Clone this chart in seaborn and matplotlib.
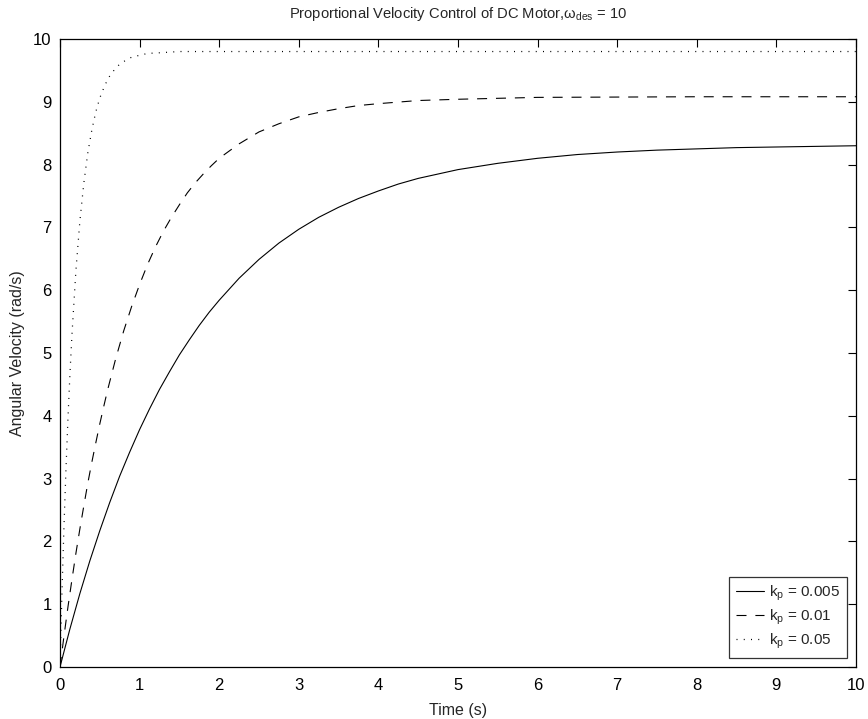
import numpy as np
import pandas as pd
import matplotlib
matplotlib.use("Agg")
import matplotlib.pyplot as plt
import seaborn as sns

# values
t_005 = [0, 0.125, 0.25, 0.375, 0.5, 0.625, 0.75, 0.875, 1.0, 1.125, 1.25,
         1.375, 1.5, 1.625, 1.75, 1.875, 2.0, 2.25, 2.5, 2.75, 3.0, 3.25, 3.5,
         3.75, 4.0, 4.25, 4.5, 4.75, 5.0, 5.5, 6.0, 6.5, 7.0, 7.5, 8.0, 8.5,
         9.0, 10.0]
w_005 = [0, 0.607, 1.17, 1.69, 2.17, 2.62, 3.04, 3.42, 3.78, 4.11, 4.42,
         4.70, 4.97, 5.21, 5.44, 5.65, 5.84, 6.19, 6.49, 6.75, 6.97, 7.16, 7.32,
         7.46, 7.58, 7.69, 7.78, 7.85, 7.92, 8.02, 8.10, 8.16, 8.20, 8.23, 8.25,
         8.27, 8.28, 8.30]

t_01 = [0, 0.05, 0.1, 0.15, 0.2, 0.25, 0.3, 0.35, 0.4, 0.45, 0.5, 0.55, 0.6,
        0.7, 0.8, 0.9, 1.0, 1.1, 1.2, 1.3, 1.4, 1.5, 1.6, 1.7, 1.8, 1.9, 2.0,
        2.25, 2.5, 2.75, 3.0, 3.25, 3.5, 3.75, 4.0, 4.5, 5.0, 6.0, 8.0, 10.0]
w_01 = [0, 0.49, 0.955, 1.39, 1.81, 2.20, 2.57, 2.93, 3.26, 3.57, 3.87, 4.15,
        4.42, 4.91, 5.35, 5.74, 6.09, 6.41, 6.69, 6.94, 7.16, 7.36, 7.55, 7.71,
        7.85, 7.98, 8.10, 8.33, 8.52, 8.65, 8.76, 8.83, 8.89, 8.94, 8.97, 9.02,
        9.04, 9.07, 9.08, 9.08]

t_05 = [0, 0.025, 0.05, 0.075, 0.1, 0.125, 0.15, 0.2, 0.25, 0.3, 0.35, 0.4,
        0.45, 0.5, 0.55, 0.6, 0.65, 0.7, 0.75, 0.8, 0.9, 1.0, 1.1, 1.25, 1.5,
        2.0, 10.0]
w_05 = [0, 1.19, 2.23, 3.14, 3.95, 4.66, 5.28, 6.31, 7.10, 7.71, 8.19, 8.55,
        8.84, 9.06, 9.22, 9.36, 9.46, 9.53, 9.60, 9.64, 9.71, 9.74, 9.77, 9.78,
        9.80, 9.80, 9.80]

labels = ["k$_p$ = 0.005", "k$_p$ = 0.01", "k$_p$ = 0.05"]
x_ticks = list(range(0, 11))
y_ticks = list(range(0, 11))

sns.set_style("white")
plt.rcParams["font.family"] = ["Liberation Sans", "DejaVu Sans"]
plt.rcParams["mathtext.fontset"] = "custom"
plt.rcParams["mathtext.rm"] = "Liberation Sans"
plt.rcParams["mathtext.it"] = "Liberation Sans"
plt.rcParams["mathtext.default"] = "regular"

fig = plt.figure(figsize=(8.68, 7.19), dpi=100)
ax = fig.add_axes([0.0691, 0.0723, 0.9171, 0.8735])

sns.lineplot(x=t_005, y=w_005, ax=ax, color="black", lw=0.8,
             linestyle="-", label=labels[0], sort=False)
sns.lineplot(x=t_01, y=w_01, ax=ax, color="black", lw=0.8,
             linestyle=(0, (9, 8)), label=labels[1], sort=False)
sns.lineplot(x=t_05, y=w_05, ax=ax, color="black", lw=0.9,
             linestyle=(0, (0.8, 5)), label=labels[2], sort=False)

ax.set_xlim(0, 10)
ax.set_ylim(0, 10)
ax.set_xticks(x_ticks)
ax.set_yticks(y_ticks)
ax.tick_params(direction="in", length=6, width=0.8, top=True, right=True,
               labelsize=12, colors="black", pad=6)
ax.tick_params(axis="x", pad=8)
for s in ax.spines.values():
    s.set_visible(True)
    s.set_color("black")
    s.set_linewidth(0.9)

ax.set_xlabel("Time (s)", fontsize=11.5, labelpad=7)
ax.set_ylabel("Angular Velocity (rad/s)", fontsize=11.5, labelpad=6)
ax.set_title(r"Proportional Velocity Control of DC Motor,$\omega_{des}$ = 10",
             fontsize=10.6, pad=15)

leg = ax.legend(loc="lower right", fontsize=11, frameon=True, fancybox=False,
                handlelength=1.8, handletextpad=0.35, borderpad=0.45,
                labelspacing=0.3, borderaxespad=0.6)
leg.get_frame().set_edgecolor("black")
leg.get_frame().set_linewidth(0.9)

fig.savefig("out.png", dpi=100)
